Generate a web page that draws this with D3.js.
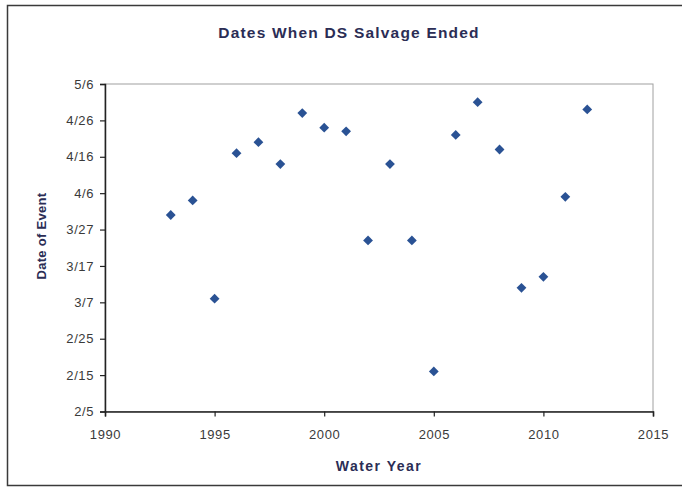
<!DOCTYPE html>
<html>
<head>
<meta charset="utf-8">
<script src="https://cdn.jsdelivr.net/npm/d3@7"></script>
<style>
  html, body { margin: 0; padding: 0; background: #ffffff; }
  svg { display: block; }
  text { font-family: Arial, "Liberation Sans", sans-serif; }
</style>
</head>
<body>
<svg id="chart" width="682" height="489"></svg>
<script>
const years = [1993, 1994, 1995, 1996, 1997, 1998, 1999, 2000, 2001, 2002,
               2003, 2004, 2005, 2006, 2007, 2008, 2009, 2010, 2011, 2012];
const endDates = ["3/31", "4/4", "3/8", "4/17", "4/20", "4/14", "4/28", "4/24", "4/23", "3/24",
                  "4/14", "3/24", "2/16", "4/22", "5/1", "4/18", "3/11", "3/14", "4/5", "4/29"];
const yTickLabels = ["2/5", "2/15", "2/25", "3/7", "3/17", "3/27", "4/6", "4/16", "4/26", "5/6"];
const xTickValues = [1990, 1995, 2000, 2005, 2010, 2015];
const titleText = "Dates When DS Salvage Ended";
const xTitle = "Water Year";
const yTitle = "Date of Event";

const refYear = 2001; // non-leap reference year
const parseMD = s => { const [m, d] = s.split("/").map(Number); return new Date(refYear, m - 1, d); };

const svg = d3.select("#chart");
const W = 682, H = 489;
const plot = { left: 105, right: 653, top: 84, bottom: 411.5 };

// outer frame
svg.append("rect").attr("x", 7.5).attr("y", 5.5).attr("width", W).attr("height", 480)
  .attr("fill", "#fff").attr("stroke", "#3a3a3a").attr("stroke-width", 1.5);

const x = d3.scaleLinear().domain([1990, 2015]).range([plot.left, plot.right]);
const y = d3.scaleTime().domain([parseMD("2/5"), parseMD("5/6")]).range([plot.bottom, plot.top]);

// plot area border (gray top/right)
svg.append("rect")
  .attr("x", plot.left).attr("y", plot.top)
  .attr("width", plot.right - plot.left).attr("height", plot.bottom - plot.top)
  .attr("fill", "none").attr("stroke", "#a0a0a0").attr("stroke-width", 1);

// axes
const xAxis = d3.axisBottom(x).tickValues(xTickValues).tickFormat(d3.format("d")).tickSize(5).tickPadding(13);
const gx = svg.append("g").attr("transform", `translate(0,${plot.bottom})`).call(xAxis);
gx.select(".domain").attr("stroke", "#222").attr("stroke-width", 1.5);
gx.selectAll(".tick line").attr("stroke", "#222").attr("stroke-width", 1.2);
gx.selectAll(".tick text").attr("fill", "#3a3a3a").attr("font-size", 13).attr("letter-spacing", 0.6);

const yAxis = d3.axisLeft(y).tickValues(yTickLabels.map(parseMD))
  .tickFormat(d => (d.getMonth() + 1) + "/" + d.getDate()).tickSize(5).tickPadding(6);
const gy = svg.append("g").attr("transform", `translate(${plot.left},0)`).call(yAxis);
gy.select(".domain").attr("stroke", "#222").attr("stroke-width", 1.5);
gy.selectAll(".tick line").attr("stroke", "#222").attr("stroke-width", 1.2);
gy.selectAll(".tick text").attr("fill", "#3a3a3a").attr("font-size", 13).attr("letter-spacing", 0.6);

// points (diamonds: squares rotated 45°)
const marker = d3.symbol().type(d3.symbolSquare).size(48);
svg.append("g").selectAll("path")
  .data(years.map((yr, i) => ({ yr, date: parseMD(endDates[i]) })))
  .join("path")
  .attr("d", marker)
  .attr("transform", d => `translate(${x(d.yr)},${y(d.date)}) rotate(45)`)
  .attr("fill", "#2a5294");

// titles
svg.append("text").attr("x", 349).attr("y", 38).attr("text-anchor", "middle")
  .attr("font-size", 15.5).attr("font-weight", "bold").attr("letter-spacing", 1.2)
  .attr("fill", "#2b2d55").text(titleText);
svg.append("text").attr("x", (plot.left + plot.right) / 2).attr("y", 471).attr("text-anchor", "middle")
  .attr("font-size", 14).attr("font-weight", "bold").attr("letter-spacing", 1.5)
  .attr("fill", "#2b2d55").text(xTitle);
svg.append("text").attr("transform", `translate(46,236) rotate(-90)`)
  .attr("text-anchor", "middle")
  .attr("font-size", 13).attr("font-weight", "bold").attr("letter-spacing", 0.3)
  .attr("fill", "#2b2d55").text(yTitle);
</script>
</body>
</html>
